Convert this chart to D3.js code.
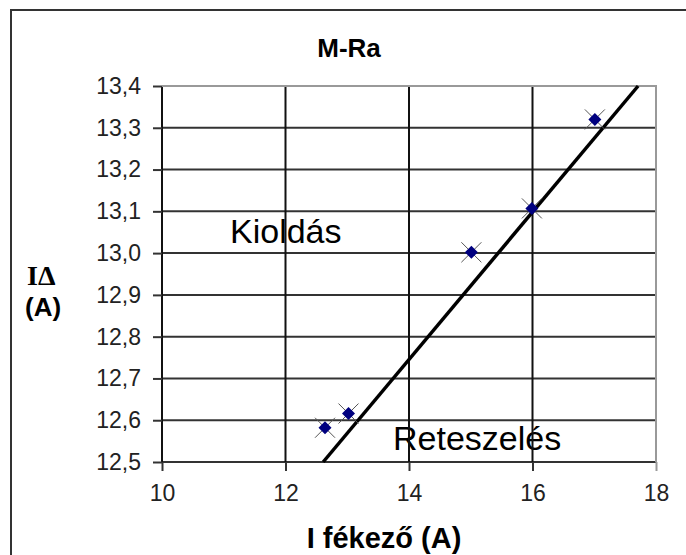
<!DOCTYPE html>
<html>
<head>
<meta charset="utf-8">
<script src="https://cdn.jsdelivr.net/npm/d3@7"></script>
<style>
  body { margin: 0; background: #fff; }
  svg { display: block; font-family: "Liberation Sans", Arial, sans-serif; }
</style>
</head>
<body>
<svg width="686" height="555"></svg>
<script>
const fekezo = [12.64, 13.02, 15.01, 15.99, 17.01]
const idelta = [12.582, 12.616, 13.002, 13.107, 13.32]
const trendX = [12.61, 17.71]
const trendY = [12.5, 13.4]
const xTicks = [10, 12, 14, 16, 18]
const yTicks = [12.5, 12.6, 12.7, 12.8, 12.9, 13.0, 13.1, 13.2, 13.3, 13.4]

const svg = d3.select('svg')
const x = d3.scaleLinear().domain([10, 18]).range([162, 656])
const y = d3.scaleLinear().domain([12.5, 13.4]).range([462, 86])
const fmt = d => d3.format('.1f')(d).replace('.', ',')

// frame
svg.append('path')
  .attr('d', 'M11,560 V10 H700')
  .attr('fill', 'none').attr('stroke', '#333').attr('stroke-width', 2)

// region labels (grid is drawn over them)
svg.append('text').attr('x', 230).attr('y', 243)
  .attr('font-size', 34).text('Kioldás')
svg.append('text').attr('x', 393).attr('y', 450)
  .attr('font-size', 34).text('Reteszelés')

// grid
svg.append('g').selectAll('line')
  .data(yTicks.slice(0, -1)).join('line')
  .attr('x1', x(10)).attr('x2', x(18))
  .attr('y1', d => y(d)).attr('y2', d => y(d))
  .attr('stroke', '#333').attr('stroke-width', 2)
svg.append('g').selectAll('line')
  .data(xTicks.slice(0, -1)).join('line')
  .attr('y1', y(12.5)).attr('y2', y(13.4))
  .attr('x1', d => x(d)).attr('x2', d => x(d))
  .attr('stroke', '#111').attr('stroke-width', 2)
svg.append('path')
  .attr('d', `M${x(10)},${y(13.4)} H${x(18)} V${y(12.5)}`)
  .attr('fill', 'none').attr('stroke', '#999').attr('stroke-width', 2)

// axes
const yAxis = svg.append('g')
  .attr('transform', `translate(${x(10)},0)`)
  .call(d3.axisLeft(y).tickValues(yTicks).tickFormat(fmt).tickSize(9).tickPadding(12))
const xAxis = svg.append('g')
  .attr('transform', `translate(0,${y(12.5)})`)
  .call(d3.axisBottom(x).tickValues(xTicks).tickSize(9).tickPadding(14))
for (const ax of [yAxis, xAxis]) {
  ax.select('.domain').remove()
  ax.selectAll('line').attr('stroke', '#333').attr('stroke-width', 2)
  ax.selectAll('text').attr('font-size', 23).attr('fill', '#222')
    .attr('font-family', '"Liberation Sans", Arial, sans-serif')
}
xAxis.select('.tick:last-of-type line').attr('stroke', '#999')

// trend line
svg.append('line')
  .attr('x1', x(trendX[0])).attr('y1', y(trendY[0]))
  .attr('x2', x(trendX[1])).attr('y2', y(trendY[1]))
  .attr('stroke', '#000').attr('stroke-width', 3.5)

// markers
const pts = svg.append('g').selectAll('g')
  .data(d3.zip(fekezo, idelta)).join('g')
  .attr('transform', d => `translate(${x(d[0])},${y(d[1])})`)
pts.append('path')
  .attr('d', 'M-10,-10 L10,10 M-10,10 L10,-10')
  .attr('stroke', '#555').attr('stroke-width', 1)
pts.append('path')
  .attr('d', 'M0,-6.5 L6.5,0 L0,6.5 L-6.5,0 Z')
  .attr('fill', '#00007f')

// titles
svg.append('text').attr('x', 349).attr('y', 57)
  .attr('text-anchor', 'middle').attr('font-size', 26).attr('font-weight', 'bold')
  .text('M-Ra')
svg.append('text').attr('x', 384).attr('y', 548)
  .attr('text-anchor', 'middle').attr('font-size', 29).attr('font-weight', 'bold')
  .text('I fékező (A)')
svg.append('text').attr('x', 27).attr('y', 285)
  .attr('font-size', 28).attr('font-weight', 'bold')
  .attr('font-family', '"Liberation Serif", "Times New Roman", serif')
  .text('IΔ')
svg.append('text').attr('x', 25).attr('y', 316)
  .attr('font-size', 26).attr('font-weight', 'bold')
  .text('(A)')
</script>
</body>
</html>
